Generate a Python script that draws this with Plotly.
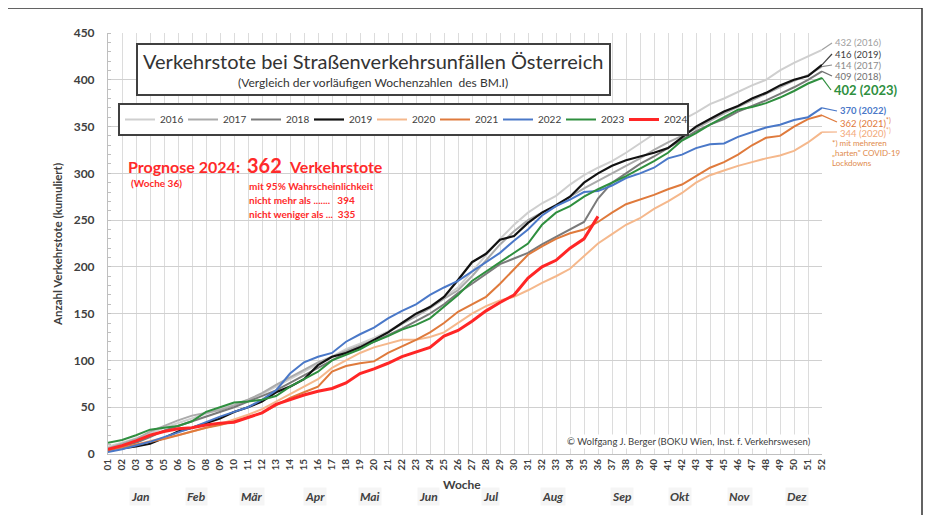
import plotly.graph_objects as go

weeks = list(range(1, 53))
week_labels = [f"{w:02d}" for w in weeks]
years = ["2016", "2017", "2018", "2019", "2020", "2021", "2022", "2023", "2024"]

v2016 = [8, 12, 17, 22, 28, 33, 38, 43, 48, 53, 58, 64, 72, 80, 88, 96, 104, 112, 118, 124, 131, 140, 148, 158, 168, 178,
         195, 212, 230, 245, 258, 268, 276, 288, 298, 306, 313, 322, 332, 342, 350, 357, 365, 374, 380, 387, 394, 400, 410, 418, 425, 432]
v2017 = [6, 11, 16, 24, 30, 36, 41, 44, 47, 52, 58, 65, 74, 82, 90, 98, 104, 110, 116, 122, 130, 139, 147, 156, 166, 175,
         190, 207, 224, 238, 250, 258, 265, 275, 284, 292, 300, 308, 316, 325, 333, 340, 348, 356, 364, 371, 378, 385, 392, 399, 405, 414]
v2018 = [4, 8, 12, 18, 25, 30, 35, 40, 45, 50, 56, 62, 68, 76, 84, 92, 100, 108, 114, 120, 127, 134, 142, 150, 160, 172,
         182, 193, 203, 209, 215, 224, 232, 240, 248, 273, 290, 300, 310, 318, 327, 336, 345, 352, 358, 366, 372, 378, 385, 392, 400, 409]
v2019 = [3, 6, 8, 11, 17, 24, 28, 33, 38, 45, 50, 56, 66, 72, 80, 95, 104, 108, 114, 122, 130, 140, 150, 157, 168, 186,
         205, 214, 229, 233, 247, 258, 266, 275, 290, 300, 308, 314, 318, 322, 327, 338, 350, 358, 366, 372, 380, 386, 394, 400, 404, 416]
v2020 = [3, 6, 10, 14, 17, 20, 24, 28, 32, 37, 42, 48, 56, 64, 72, 80, 92, 100, 108, 114, 118, 122, 122, 125, 130, 140,
         150, 158, 164, 168, 175, 183, 190, 198, 212, 225, 235, 245, 252, 262, 270, 279, 290, 298, 303, 308, 312, 316, 319, 324, 333, 344]
v2021 = [4, 7, 10, 13, 16, 20, 24, 28, 31, 35, 39, 44, 52, 60, 66, 72, 88, 94, 97, 99, 108, 115, 122, 130, 140, 152,
         160, 168, 182, 198, 213, 222, 230, 236, 240, 248, 258, 267, 272, 277, 283, 288, 297, 306, 312, 320, 330, 338, 340, 350, 358, 362]
v2022 = [2, 5, 9, 13, 18, 23, 28, 34, 40, 45, 50, 58, 68, 86, 98, 104, 108, 120, 128, 135, 145, 153, 160, 170, 178, 185,
         195, 205, 215, 228, 240, 255, 265, 272, 280, 281, 287, 295, 300, 306, 316, 320, 327, 331, 332, 339, 344, 349, 352, 357, 360, 370]
v2023 = [12, 15, 20, 26, 28, 30, 35, 45, 50, 55, 56, 58, 62, 72, 80, 88, 100, 106, 112, 120, 126, 133, 138, 145, 158, 170,
         185, 195, 205, 215, 225, 245, 258, 265, 275, 283, 290, 297, 305, 313, 322, 335, 343, 352, 360, 368, 371, 375, 381, 388, 396, 402]
v2024 = [5, 9, 14, 20, 24, 27, 28, 31, 33, 34, 39, 44, 53, 58, 63, 67, 70, 76, 86, 91, 97, 104, 109, 114, 126, 132,
         142, 153, 162, 170, 188, 200, 207, 220, 230, 254]

series = [v2016, v2017, v2018, v2019, v2020, v2021, v2022, v2023, v2024]
colors = ["#cfcfcf", "#ababab", "#7a7a7a", "#111111", "#f5b88c", "#df7a3c", "#4a78c8", "#2f8f3f", "#ff2626"]
widths = [2, 2, 2, 2.2, 2, 2, 2, 2, 3]

months = ["Jan", "Feb", "Mär", "Apr", "Mai", "Jun", "Jul", "Aug", "Sep", "Okt", "Nov", "Dez"]
month_px = [140, 196, 252, 315, 370, 428, 490, 553, 622, 680, 740, 797]

end_labels = ["432 (2016)", "416 (2019)", "414 (2017)", "409 (2018)", "402 (2023)", "370 (2022)",
              "362 (2021)<sup>*)</sup>", "344 (2020)<sup>*)</sup>"]
end_values = [432, 416, 414, 409, 402, 370, 362, 344]
end_colors = ["#a0a0a0", "#404040", "#8c8c8c", "#707070", "#2f8f3f", "#4a78c8", "#df7a3c", "#f2a878"]
end_label_py = [43, 54, 65, 76, 90, 111, 122, 132]
end_label_px = [833, 833, 833, 833, 832, 838, 838, 838]

# page offset (browser body margin)
OFF = 8
W, H = 933 - OFF, 515 - OFF
# plot area in page pixels
PL, PR, PT, PB = 108, 822, 33, 454
FONT = "Lato"


def px(x):
    return (x - PL) / (PR - PL)


def py(y):
    return (PB - y) / (PB - PT)


def yval(y):
    return (PB - y) / (PB - PT) * 450


fig = go.Figure()
for name, vals, c, w in zip(years, series, colors, widths):
    fig.add_trace(go.Scatter(x=weeks[:len(vals)], y=vals, mode="lines", name=name,
                             line=dict(color=c, width=w)))

ann = []
ann.append(dict(x=px(373), y=py(61), text="Verkehrstote bei Straßenverkehrsunfällen Österreich",
                font=dict(size=20, color="#333333", family=FONT)))
ann.append(dict(x=px(373), y=py(83), text="(Vergleich der vorläufigen Wochenzahlen  des BM.I)",
                font=dict(size=12, color="#333333", family=FONT)))
red = "#ff2a2a"
ann.append(dict(x=px(126), y=py(167), text="<b>Prognose 2024:</b>", xanchor="left",
                font=dict(size=16, color=red, family=FONT)))
ann.append(dict(x=px(245), y=py(165), text="<b>362</b>", xanchor="left",
                font=dict(size=20, color=red, family=FONT)))
ann.append(dict(x=px(287), y=py(167), text="<b>Verkehrstote</b>", xanchor="left",
                font=dict(size=16, color=red, family=FONT)))
ann.append(dict(x=px(129), y=py(183), text="<b>(Woche 36)</b>", xanchor="left",
                font=dict(size=10, color=red, family=FONT)))
ann.append(dict(x=px(247), y=py(186), text="<b>mit 95% Wahrscheinlichkeit</b>", xanchor="left",
                font=dict(size=10, color=red, family=FONT)))
ann.append(dict(x=px(247), y=py(200), text="<b>nicht mehr als .......   394</b>", xanchor="left",
                font=dict(size=10, color=red, family=FONT)))
ann.append(dict(x=px(247), y=py(214), text="<b>nicht weniger als ...  335</b>", xanchor="left",
                font=dict(size=10, color=red, family=FONT)))
ann.append(dict(x=px(689), y=py(441), text="© Wolfgang J. Berger (BOKU Wien, Inst. f. Verkehrswesen)",
                font=dict(size=9.5, color="#404040", family=FONT), bgcolor="white"))
ann.append(dict(x=px(462), y=py(484), text="<b>Woche</b>", font=dict(size=12, color="#404040", family=FONT)))
ann.append(dict(x=px(57), y=py(245), text="<b>Anzahl Verkehrstote (kumuliert)</b>", textangle=-90,
                font=dict(size=11.5, color="#404040", family=FONT)))
for m, mx in zip(months, month_px):
    ann.append(dict(x=px(mx), y=py(497), text=f"<b><i>{m}</i></b>",
                    font=dict(size=12, color="#404040", family=FONT), bgcolor="#f5f5f5"))
for t, c, ly, lx in zip(end_labels, end_colors, end_label_py, end_label_px):
    big = t.startswith("402")
    bold = big or t.startswith("370")
    ann.append(dict(x=px(lx), y=py(ly), text=f"<b>{t}</b>" if bold else t, xanchor="left",
                    font=dict(size=13 if big else 9.5, color=c, family=FONT)))
for t, ly in zip(["*) mit mehreren", "„harten\" COVID-19", "Lockdowns"], [143, 153, 163]):
    ann.append(dict(x=px(830), y=py(ly), text=t, xanchor="left",
                    font=dict(size=8, color="#e08a4c", family=FONT)))

for a in ann:
    a.setdefault("xref", "paper")
    a.setdefault("yref", "paper")
    a.setdefault("showarrow", False)
    a.setdefault("xanchor", "center")
    a.setdefault("yanchor", "middle")

shapes = []
shapes.append(dict(type="rect", xref="paper", yref="paper", x0=px(6), x1=px(922), y0=py(540), y1=py(8),
                   line=dict(color="#303030", width=1.5), layer="above"))
shapes.append(dict(type="rect", xref="paper", yref="paper", x0=px(137), x1=px(610), y0=py(95), y1=py(44),
                   line=dict(color="#404040", width=2), fillcolor="white", layer="above"))
for v, c, ly, lx in zip(end_values, end_colors, end_label_py, end_label_px):
    shapes.append(dict(type="line", xref="paper", yref="y", x0=1.0, y0=v, x1=px(lx - 1), y1=yval(ly),
                       line=dict(color=c, width=1.2), layer="above"))

fig.update_layout(
    width=W, height=H,
    margin=dict(l=PL - OFF, r=W - (PR - OFF), t=PT - OFF, b=H - (PB - OFF), autoexpand=False),
    paper_bgcolor="white", plot_bgcolor="white",
    font=dict(family=FONT, color="#404040"),
    showlegend=True,
    legend=dict(orientation="h", x=px(118), y=py(103), xanchor="left", yanchor="top",
                bgcolor="white", bordercolor="#404040", borderwidth=2,
                font=dict(size=10, color="#404040", family=FONT),
                entrywidth=18, entrywidthmode="pixels", itemwidth=30, tracegroupgap=0),
    annotations=ann, shapes=shapes,
    xaxis=dict(range=[1, 52], tickmode="array", tickvals=weeks, ticktext=week_labels, tickangle=-90,
               tickfont=dict(size=10, color="#404040", family=FONT, weight="bold"), showgrid=True,
               gridcolor="#dcdcdc", gridwidth=1, showline=True, linecolor="#bfbfbf", zeroline=False,
               ticks="", fixedrange=True),
    yaxis=dict(range=[0, 450], tickmode="array", tickvals=list(range(0, 451, 50)),
               tickfont=dict(size=12, color="#404040", family=FONT, weight="bold"), showgrid=True,
               gridcolor="#d0d0d0", showline=True, linecolor="#bfbfbf", zeroline=False, ticks="",
               ticklabelstandoff=10,
               minor=dict(dtick=10, ticks="inside", ticklen=3, tickcolor="#bfbfbf", showgrid=False)),
)

fig.write_html("out.html")
